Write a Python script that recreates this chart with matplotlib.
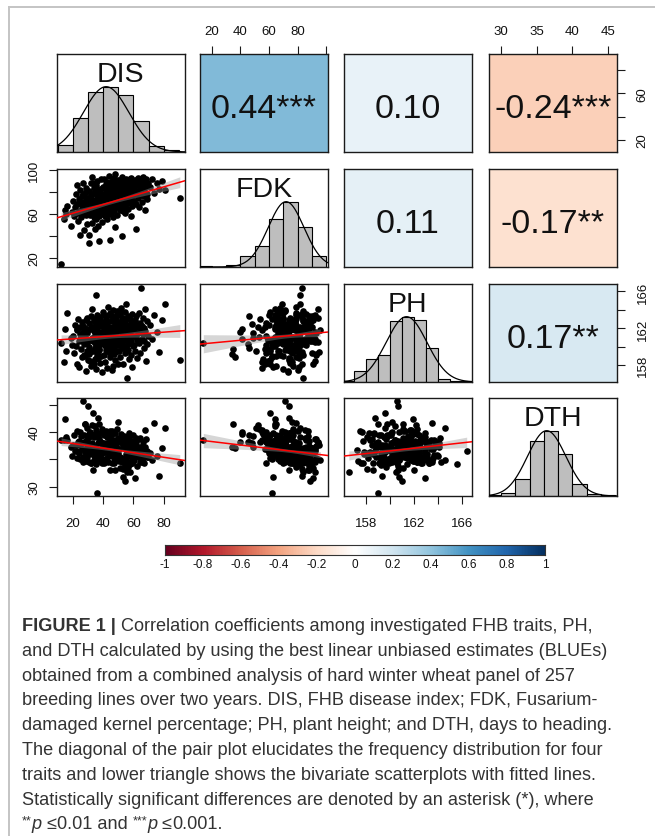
import numpy as np
import matplotlib
matplotlib.use("Agg")
import matplotlib.pyplot as plt
from matplotlib.colors import LinearSegmentedColormap, Normalize
from matplotlib.lines import Line2D

plt.rcParams['font.family'] = ['Liberation Sans', 'DejaVu Sans']

# ---------------- data ----------------
TRAITS = ['DIS', 'FDK', 'PH', 'DTH']

DIS = [12.3, 14.2, 14.9, 15.4, 16.3, 18.6, 19.4,
       20.4, 21.0, 21.6, 22.1, 22.5, 23.0, 23.4, 23.9, 24.3, 24.7, 25.0, 25.4, 25.8, 26.1, 26.4, 26.7, 27.0,
       27.3, 27.6, 27.9, 28.1, 28.4, 28.6, 28.9, 29.1, 29.3, 29.5, 29.7, 29.9, 22.8, 24.9, 26.9, 28.3,
       30.2, 30.5, 30.8, 31.0, 31.3, 31.5, 31.8, 32.0, 32.2, 32.5, 32.7, 33.0, 33.2, 33.4, 33.7, 33.9, 34.1,
       34.3, 34.5, 34.7, 34.9, 35.1, 35.3, 35.5, 35.7, 35.9, 36.1, 36.3, 36.5, 36.7, 36.9, 37.1, 37.3, 37.5,
       37.7, 37.9, 38.1, 38.3, 38.5, 38.7, 38.9, 39.1, 39.3, 39.5, 39.7, 39.9, 30.9, 31.7, 32.9, 33.6, 34.4,
       35.2, 36.0, 36.8, 37.6, 38.4, 39.2, 35.6, 33.1,
       40.1, 40.3, 40.5, 40.7, 40.9, 41.1, 41.3, 41.5, 41.7, 41.9, 42.1, 42.3, 42.5, 42.7, 42.9, 43.1, 43.3,
       43.5, 43.7, 43.9, 44.1, 44.3, 44.5, 44.7, 44.9, 45.1, 45.3, 45.5, 45.7, 45.9, 46.1, 46.3, 46.5, 46.7,
       46.9, 47.1, 47.3, 47.5, 47.7, 47.9, 48.1, 48.3, 48.5, 48.7, 48.9, 49.1, 49.3, 49.5, 49.7, 49.9, 40.6,
       41.6, 42.6, 43.6, 44.0, 44.6, 45.6, 46.6, 47.0, 47.6, 48.0, 48.6, 49.0, 49.6,
       50.2, 50.4, 50.6, 50.8, 51.0, 51.2, 51.4, 51.6, 51.8, 52.0, 52.2, 52.4, 52.6, 52.8, 53.0, 53.2, 53.4,
       53.6, 53.8, 54.0, 54.2, 54.4, 54.6, 54.8, 55.0, 55.2, 55.4, 55.7, 55.9, 56.1, 56.3, 56.5, 56.7, 56.9,
       57.1, 57.3, 57.5, 57.7, 57.9, 58.1, 58.3, 58.5, 58.7, 58.9, 59.1, 59.3, 59.5, 59.7, 59.9, 50.9, 52.9,
       54.5, 56.0, 57.0, 58.0, 59.0,
       60.2, 60.5, 60.8, 61.1, 61.4, 61.7, 62.0, 62.3, 62.6, 62.9, 63.2, 63.5, 63.8, 64.1, 64.4, 64.7, 65.2,
       65.5, 65.8, 66.1, 66.4, 66.7, 67.0, 67.3, 67.6, 67.9, 68.3, 68.7, 69.2, 69.7,
       71.0, 72.4, 73.8, 75.5, 77.1, 78.6,
       81.1, 90.6]

FDK = [14, 55, 64, 60, 67, 49, 62,
       72, 58, 66, 78, 61, 69, 54, 74, 63, 82, 70, 57, 67, 76, 62, 88, 71, 45, 68, 79, 64, 73, 59, 84, 66,
       51, 75, 69, 61, 86, 41, 77, 65,
       74, 34, 66, 81, 59, 71, 88, 63, 77, 52, 69, 94, 61, 73, 84, 57, 67, 79, 46, 72, 64, 86, 70, 55, 76,
       62, 90, 68, 74, 49, 81, 65, 71, 58, 83, 67, 75, 60, 92, 70, 63, 78, 53, 73, 85, 66, 41, 77, 69, 88,
       56, 72, 80, 64, 35, 74, 68, 82, 61,
       78, 65, 84, 71, 92, 58, 76, 69, 87, 73, 62, 81, 74, 55, 89, 68, 79, 72, 95, 64, 83, 70, 77, 36, 86,
       67, 75, 61, 90, 73, 80, 57, 85, 71, 68, 93, 76, 63, 82, 74, 48, 79, 70, 88, 66, 77, 59, 84, 72, 91,
       69, 75, 82, 60, 78, 87, 71, 65, 80, 74, 96, 67, 83, 76,
       82, 70, 88, 75, 64, 91, 79, 73, 85, 68, 40, 80, 76, 94, 71, 83, 66, 87, 78, 72, 89, 61, 81, 77, 74,
       92, 69, 84, 76, 86, 72, 79, 65, 90, 82, 75, 88, 70, 83, 58, 93, 78, 74, 86, 67, 81, 90, 77, 84, 71,
       63, 87, 80, 74, 92, 79,
       84, 72, 91, 78, 86, 69, 46, 88, 81, 75, 93, 79, 66, 85, 90, 77, 83, 71, 87, 80, 94, 76, 82, 89, 64,
       85, 92, 78, 74, 88,
       85, 92, 79, 88, 83, 90,
       82, 75]

PH = [160.4, 158.4, 161.9, 159.5, 163.7, 161.0, 160.2,
      161.2, 159.3, 162.4, 160.1, 158.2, 161.8, 163.0, 160.6, 157.8, 162.1, 161.4, 159.8, 160.9, 162.7, 158.9,
      161.6, 160.6, 160.3, 159.1, 162.0, 161.1, 157.4, 160.7, 162.9, 161.5, 159.6, 163.1, 160.4, 158.6, 161.9,
      160.8, 162.3, 159.0,
      160.7, 159.2, 162.6, 160.0, 158.5, 161.9, 163.3, 160.7, 157.9, 162.2, 161.0, 164.1, 159.6, 160.9, 162.8,
      158.1, 161.7, 163.0, 159.9, 161.3, 160.4, 162.5, 157.6, 161.8, 159.3, 159.0, 160.6, 162.0, 158.8, 161.5,
      160.2, 162.9, 159.7, 161.2, 163.2, 160.8, 158.3, 162.4, 161.6, 159.0, 160.5, 162.7, 161.1, 157.3, 160.3,
      163.8, 161.9, 159.5, 162.1, 160.7, 158.7, 161.4, 163.5, 160.1, 159.8, 162.3, 161.0, 165.6, 160.6,
      160.8, 162.4, 159.1, 161.7, 163.5, 160.2, 158.4, 162.0, 161.3, 159.7, 163.0, 160.6, 161.9, 157.7, 162.6,
      160.9, 164.3, 161.5, 159.4, 162.2, 160.3, 163.7, 161.1, 158.9, 162.8, 160.5, 161.8, 159.8, 163.3, 161.4,
      157.5, 162.1, 160.7, 164.0, 161.6, 159.2, 162.9, 160.1, 161.0, 158.6, 162.5, 160.4, 163.1, 161.2, 159.6,
      162.3, 160.9, 163.9, 161.7, 158.2, 162.7, 160.0, 161.5, 163.4, 159.9, 162.0, 161.3, 157.9, 160.6, 162.9,
      161.8, 159.5, 163.6, 160.2,
      161.9, 160.3, 162.7, 159.5, 163.4, 161.1, 158.9, 162.3, 160.8, 164.2, 161.6, 159.9, 162.9, 160.5, 161.3,
      158.1, 163.1, 161.8, 160.0, 162.5, 161.0, 163.8, 159.3, 162.1, 160.7, 161.5, 164.6, 156.6, 162.4, 160.2,
      161.7, 159.7, 163.3, 160.9, 162.0, 158.7, 161.4, 163.0, 160.4, 162.6, 159.1, 161.8, 160.6, 163.6, 161.2,
      157.8, 162.2, 160.1, 161.9, 163.9, 160.8, 162.8, 159.6, 161.3, 160.5, 162.4,
      161.8, 160.2, 162.9, 159.6, 162.4, 161.1, 163.3, 160.7, 158.8, 162.1, 161.5, 163.7, 160.4, 162.6, 159.3,
      161.9, 166.4, 162.3, 160.9, 161.4, 163.1, 159.9, 162.0, 160.6, 164.1, 161.7, 158.5, 162.8, 160.3, 161.2,
      162.4, 160.8, 163.5, 161.6, 159.4, 162.9,
      164.6, 158.6]

DTH = [38.6, 38.5, 42.4, 39.1, 38.6, 37.2, 35.6,
       37.6, 39.5, 36.5, 37.7, 35.2, 40.2, 38.1, 36.1, 38.3, 35.1, 37.6, 39.3, 36.8, 35.0, 38.0, 35.4, 45.6,
       38.1, 39.5, 36.4, 41.5, 34.7, 38.4, 36.7, 37.5, 40.8, 35.4, 38.5, 36.0, 36.5, 40.0, 34.6, 41.4,
       44.7, 37.2, 39.0, 34.6, 37.7, 40.0, 34.4, 37.0, 36.4, 41.2, 35.9, 37.9, 43.4, 36.3, 34.8, 39.0, 37.2,
       35.7, 39.5, 36.2, 41.1, 37.3, 34.3, 40.3, 36.2, 28.9, 36.4, 34.7, 42.5, 39.2, 35.3, 36.1, 38.7, 38.2,
       34.8, 36.7, 39.8, 36.1, 36.5, 38.1, 36.5, 34.3, 40.6, 36.7, 35.0, 37.5, 39.7, 34.3, 37.7, 33.0, 39.6,
       36.1, 34.9, 38.0, 41.5, 35.9, 37.1, 34.2, 37.1,
       36.3, 39.5, 34.4, 37.9, 34.5, 39.9, 36.3, 36.3, 40.2, 36.8, 35.1, 38.0, 36.5, 39.9, 35.3, 38.0, 34.6,
       36.9, 37.7, 35.7, 36.8, 35.7, 40.1, 37.0, 38.6, 35.8, 37.2, 39.5, 34.3, 37.0, 40.2, 36.9, 37.1, 35.6,
       38.6, 35.2, 35.7, 39.8, 36.9, 33.0, 37.9, 38.1, 35.9, 37.5, 35.0, 40.6, 36.7, 35.8, 38.9, 36.1, 34.7,
       36.5, 39.0, 36.9, 37.3, 33.1, 38.2, 35.9, 34.4, 39.8, 34.9, 37.0, 36.8, 41.8,
       36.9, 34.7, 38.3, 35.4, 38.6, 33.4, 35.5, 39.6, 34.9, 38.9, 38.1, 34.5, 39.1, 35.1, 37.3, 33.3, 37.6,
       39.3, 35.2, 38.5, 31.1, 37.6, 34.0, 38.3, 35.9, 36.8, 34.9, 32.7, 37.4, 34.6, 39.2, 33.6, 37.6, 37.1,
       35.6, 39.8, 34.1, 38.1, 35.7, 34.4, 37.4, 35.9, 36.8, 35.3, 38.3, 34.4, 36.1, 39.5, 34.7, 38.1, 31.7,
       35.1, 36.4, 38.7, 32.7, 36.5,
       37.0, 34.8, 31.6, 37.7, 35.6, 38.9, 38.2, 33.8, 36.6, 36.2, 38.7, 37.2, 35.4, 38.9, 34.5, 37.3, 36.5,
       34.6, 35.8, 35.3, 38.2, 34.4, 36.9, 36.9, 37.3, 40.3, 38.8, 35.4, 36.5, 35.4,
       36.2, 34.8, 41.6, 35.6, 32.0, 37.0,
       40.7, 34.3]

# fitted straight lines: (x trait, y trait) -> (intercept, slope)
FIT_COEF = {
    ('DIS', 'FDK'): (52.65, 0.4007),
    ('DIS', 'PH'): (160.63, 0.0120),
    ('FDK', 'PH'): (160.13, 0.01456),
    ('DIS', 'DTH'): (38.73, -0.04197),
    ('FDK', 'DTH'): (38.87, -0.03135),
    ('PH', 'DTH'): (-2.716, 0.2453),
}

# histogram bins and counts (diagonal)
HIST_EDGES = {
    'DIS': [10, 20, 30, 40, 50, 60, 70, 80, 90],
    'FDK': [10, 20, 30, 40, 50, 60, 70, 80, 90, 100],
    'PH': [156, 157, 158, 159, 160, 161, 162, 163, 164, 165, 166, 167],
    'DTH': [28, 30, 32, 34, 36, 38, 40, 42, 44, 46],
}
HIST_COUNTS = {
    'DIS': [7, 33, 59, 64, 56, 30, 6, 2],
    'FDK': [1, 0, 3, 14, 27, 62, 84, 52, 14],
    'PH': [1, 10, 20, 24, 54, 58, 55, 30, 3, 1, 1],
    'DTH': [1, 4, 22, 72, 85, 54, 15, 3, 1],
}
CURVE_MEAN = {'DIS': 42.0, 'FDK': 72.0, 'PH': 161.4, 'DTH': 36.4}
CURVE_SD = {'DIS': 15.0, 'FDK': 12.5, 'PH': 1.7, 'DTH': 2.7}

# correlation cells (upper triangle)
CORR_PAIRS = [(0, 1), (0, 2), (0, 3), (1, 2), (1, 3), (2, 3)]
CORR_VALUES = [0.44, 0.10, -0.24, 0.11, -0.17, 0.17]
CORR_LABELS = ['0.44***', '0.10', '-0.24***', '0.11', '-0.17**', '0.17**']

AX_LIMS = {'DIS': (9.6, 93.7), 'FDK': (11.7, 101.0), 'PH': (156.2, 166.8), 'DTH': (28.3, 46.2)}

TOP_TICKS = {1: ([20, 40, 60, 80, 100], ['20', '40', '60', '80', '']),
             3: ([30, 35, 40, 45], ['30', '35', '40', '45'])}
BOTTOM_TICKS = {0: ([20, 40, 60, 80], ['20', '40', '60', '80']),
                2: ([158, 160, 162, 164, 166], ['158', '', '162', '', '166'])}
LEFT_TICKS = {1: ([20, 40, 60, 80, 100], ['20', '', '60', '', '100']),
              3: ([30, 35, 40, 45], ['30', '', '40', ''])}
RIGHT_TICKS = {0: ([20, 40, 60, 80], ['20', '', '60', '']),
               2: ([158, 160, 162, 164, 166], ['158', '', '162', '', '166'])}

CB_TICKS = [-1, -0.8, -0.6, -0.4, -0.2, 0, 0.2, 0.4, 0.6, 0.8, 1]
CB_LABELS = ['-1', '-0.8', '-0.6', '-0.4', '-0.2', '0', '0.2', '0.4', '0.6', '0.8', '1']

CAPTION_BOLD = "FIGURE 1 |"
CAPTION_LINES = [
    " Correlation coefficients among investigated FHB traits, PH,",
    "and DTH calculated by using the best linear unbiased estimates (BLUEs)",
    "obtained from a combined analysis of hard winter wheat panel of 257",
    "breeding lines over two years. DIS, FHB disease index; FDK, Fusarium-",
    "damaged kernel percentage; PH, plant height; and DTH, days to heading.",
    "The diagonal of the pair plot elucidates the frequency distribution for four",
    "traits and lower triangle shows the bivariate scatterplots with fitted lines.",
    "Statistically significant differences are denoted by an asterisk (*), where",
]

DATA = {'DIS': np.array(DIS), 'FDK': np.array(FDK), 'PH': np.array(PH), 'DTH': np.array(DTH)}

# ---------------- layout ----------------
W, H = 655, 837
fig = plt.figure(figsize=(W / 100, H / 100), dpi=100)
COL_LEFT = [57, 200, 344, 489]
ROW_TOP = [55, 170, 285, 399]
PW, PHH = 127.5, 98.0

cmap = LinearSegmentedColormap.from_list('corrRdBu', ["#67001F", "#B2182B", "#D6604D", "#F4A582", "#FDDBC7",
                                                      "#FFFFFF", "#D1E5F0", "#92C5DE", "#4393C3", "#2166AC",
                                                      "#053061"], N=256)
norm = Normalize(-1, 1)

TXT = '#111111'
TICK_FS = 9.5


def add_px_axes(x0, y0, w, h):
    return fig.add_axes([x0 / W, 1 - (y0 + h) / H, w / W, h / H])


for r in range(4):
    for c in range(4):
        ax = add_px_axes(COL_LEFT[c], ROW_TOP[r], PW, PHH)
        tx, ty = TRAITS[c], TRAITS[r]
        ax.set_xlim(AX_LIMS[tx])
        for sp in ax.spines.values():
            sp.set_linewidth(1.0)
            sp.set_color('#1a1a1a')
        if r == c:
            ax.set_ylim(0, 1.5)
            edges = np.array(HIST_EDGES[tx], dtype=float)
            counts = np.array(HIST_COUNTS[tx], dtype=float)
            ax.bar(edges[:-1], counts / counts.max(), width=np.diff(edges), align='edge',
                   color='#bebebe', edgecolor='black', linewidth=0.8, zorder=2)
            xs = np.linspace(AX_LIMS[tx][0], AX_LIMS[tx][1], 300)
            ys = np.exp(-0.5 * ((xs - CURVE_MEAN[tx]) / CURVE_SD[tx]) ** 2)
            ax.plot(xs, ys, color='black', lw=0.9, zorder=3)
            ax.text(0.5, 0.724, tx, transform=ax.transAxes, ha='center', va='baseline',
                    fontsize=20.5, color=TXT)
        elif r > c:
            ax.set_ylim(AX_LIMS[ty])
            x = DATA[tx]
            y = DATA[ty]
            ax.scatter(x, y, s=23, c='black', linewidths=0, zorder=2)
            a, b = FIT_COEF[(tx, ty)]
            n = len(x)
            resid = y - (a + b * x)
            s = np.sqrt(np.sum(resid ** 2) / (n - 2))
            sxx = np.sum((x - x.mean()) ** 2)
            xb = np.linspace(x.min(), x.max(), 100)
            yb = a + b * xb
            se = s * np.sqrt(1 / n + (xb - x.mean()) ** 2 / sxx)
            ax.fill_between(xb, yb - 1.97 * se, yb + 1.97 * se, color='#999999', alpha=0.4,
                            linewidth=0, zorder=3)
            xl = np.array(AX_LIMS[tx])
            ax.plot(xl, a + b * xl, color='#ff0000', lw=1.1, zorder=4)
        else:
            ax.set_ylim(AX_LIMS[ty])
            k = CORR_PAIRS.index((r, c))
            ax.set_facecolor(cmap(norm(CORR_VALUES[k])))
            ax.text(0.5, 0.36, CORR_LABELS[k], transform=ax.transAxes, ha='center',
                    va='baseline', fontsize=24.5, color=TXT)

        # ticks
        ax.tick_params(which='both', top=False, bottom=False, left=False, right=False,
                       labeltop=False, labelbottom=False, labelleft=False, labelright=False,
                       direction='out', length=6, width=0.8, labelsize=TICK_FS,
                       colors='#1a1a1a', labelcolor=TXT)
        if r == 0 and c in TOP_TICKS:
            t, l = TOP_TICKS[c]
            ax.set_xticks(t)
            ax.set_xticklabels(l)
            ax.tick_params(axis='x', top=True, labeltop=True, pad=6)
        elif r == 3 and c in BOTTOM_TICKS:
            t, l = BOTTOM_TICKS[c]
            ax.set_xticks(t)
            ax.set_xticklabels(l)
            ax.tick_params(axis='x', bottom=True, labelbottom=True, pad=9)
        else:
            ax.set_xticks([])
        if c == 0 and r in LEFT_TICKS:
            t, l = LEFT_TICKS[r]
            ax.set_yticks(t)
            ax.set_yticklabels(l, rotation=90, va='center')
            ax.tick_params(axis='y', left=True, labelleft=True, pad=6)
        elif c == 3 and r in RIGHT_TICKS:
            t, l = RIGHT_TICKS[r]
            ax.set_yticks(t)
            ax.set_yticklabels(l, rotation=90, va='center')
            ax.tick_params(axis='y', right=True, labelright=True, pad=8.5)
        else:
            ax.set_yticks([])

# ---------------- colour bar ----------------
cax = add_px_axes(165, 546, 380, 10)
grad = np.linspace(-1, 1, 400).reshape(1, -1)
cax.imshow(grad, cmap=cmap, norm=norm, aspect='auto', extent=(-1, 1, 0, 1))
cax.set_xlim(-1, 1)
cax.set_yticks([])
cax.set_xticks(CB_TICKS)
cax.set_xticklabels(CB_LABELS)
cax.tick_params(axis='x', length=0, pad=2, labelsize=8.5, labelcolor=TXT)
for sp in cax.spines.values():
    sp.set_linewidth(0.8)
    sp.set_color('#333333')

# ---------------- frame ----------------
fig.add_artist(Line2D([9 / W, 1.0], [1 - 7.5 / H, 1 - 7.5 / H], color='#c4c4c4', lw=1.4))
fig.add_artist(Line2D([9 / W, 9 / W], [1 - 7.5 / H, 0.0], color='#c4c4c4', lw=1.4))

# ---------------- caption ----------------
renderer = fig.canvas.get_renderer()
CAP_FS = 13.1
CAP_COLOR = '#333333'
X0 = 22
BASE0 = 631
DY = 24.8


def draw_pieces(x_px, y_px, pieces):
    x = x_px
    for s, kw in pieces:
        dy = kw.pop('dy', 0)
        t = fig.text(x / W, 1 - (y_px - dy) / H, s, ha='left', va='baseline',
                     color=CAP_COLOR, **kw)
        x += t.get_window_extent(renderer).width
    return x


draw_pieces(X0, BASE0, [(CAPTION_BOLD, dict(fontsize=CAP_FS, fontweight='bold')),
                        (CAPTION_LINES[0], dict(fontsize=CAP_FS))])
for i, line in enumerate(CAPTION_LINES[1:], start=1):
    fig.text(X0 / W, 1 - (BASE0 + i * DY) / H, line, ha='left', va='baseline',
             fontsize=CAP_FS, color=CAP_COLOR)

last_y = BASE0 + 8 * DY
draw_pieces(X0, last_y, [
    ("**", dict(fontsize=9, dy=5)),
    ("p", dict(fontsize=CAP_FS, style='italic')),
    (" \u2264", dict(fontsize=CAP_FS)),
    ("0.01 and ", dict(fontsize=CAP_FS)),
    ("***", dict(fontsize=9, dy=5)),
    ("p", dict(fontsize=CAP_FS, style='italic')),
    (" \u2264", dict(fontsize=CAP_FS)),
    ("0.001.", dict(fontsize=CAP_FS)),
])

fig.savefig('out.png', dpi=100)
